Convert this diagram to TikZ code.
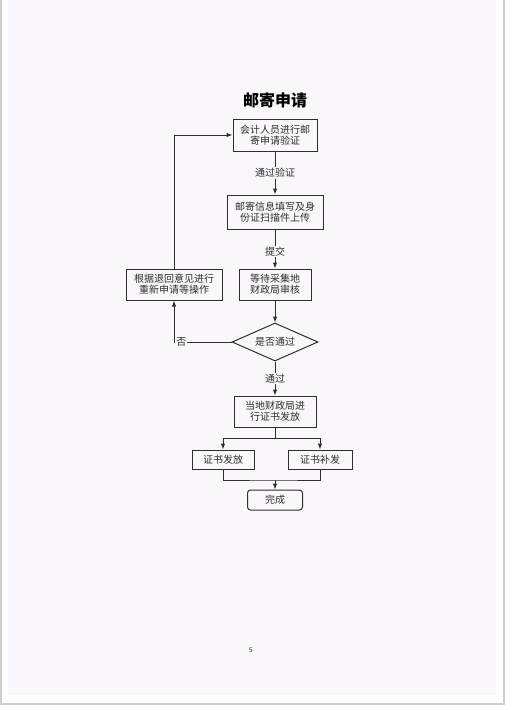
\documentclass[tikz,border=0pt]{standalone}
\usepackage{fontspec}
\usepackage{tikz}
\usetikzlibrary{arrows.meta,shapes.geometric}
\newfontfamily\cjk{Noto Sans CJK SC}
\definecolor{Paper}{HTML}{F9F7FC}
\definecolor{Ink}{HTML}{2E2E2E}
\definecolor{Rim}{HTML}{CFCFCF}

\tikzset{
  procbox/.style={draw=Ink,line width=1pt,fill=Paper,text=Ink,inner sep=0pt,
    font=\cjk\fontsize{10}{11}\selectfont,align=center},
  tag/.style={fill=Paper,text=Ink,inner sep=1pt,font=\cjk\fontsize{10}{11}\selectfont},
  flow/.style={draw=Ink,line width=1pt,-{Latex[length=6pt,width=4.5pt]}},
  wire/.style={draw=Ink,line width=1pt}
}

\begin{document}
\begin{tikzpicture}[x=1pt,y=-1pt]
  \useasboundingbox (0,0) rectangle (518,710);
  % scanned page
  \fill[white] (0,0) rectangle (518,710);
  \fill[Paper] (8,0) rectangle (496,695);
  \draw[Rim,line width=2pt] (1,0) -- (1,704) -- (504,704) -- (504,0);

  \node[font=\cjk\bfseries\fontsize{16}{18}\selectfont,text=black] (title) at (275,100) {邮寄申请};

  \node[procbox,minimum width=84pt,minimum height=32pt] (check) at (275,135) {会计人员进行邮\\寄申请验证};
  \node[procbox,minimum width=96pt,minimum height=34pt] (upload) at (275,212) {邮寄信息填写及身\\份证扫描件上传};
  \node[procbox,minimum width=72pt,minimum height=31pt] (review) at (275,284.5) {等待采集地\\财政局审核};
  \node[procbox,minimum width=96pt,minimum height=31pt] (redo) at (174,284.5) {根据退回意见进行\\重新申请等操作};
  \node[procbox,diamond,aspect=2.26,minimum width=86pt,minimum height=38pt] (pass) at (275,342) {是否通过};
  \node[procbox,minimum width=82pt,minimum height=31pt] (grant) at (275,411.5) {当地财政局进\\行证书发放};
  \node[procbox,minimum width=62pt,minimum height=19pt] (issue) at (223,459.5) {证书发放};
  \node[procbox,minimum width=64pt,minimum height=19pt] (reissue) at (320,459.5) {证书补发};
  \node[procbox,rounded corners=3pt,minimum width=55pt,minimum height=20pt] (done) at (275,500) {完成};

  \coordinate (split) at (275,438);
  \coordinate (join) at (275,480);

  \draw[flow] (check) -- node[tag]{通过验证} (upload);
  \draw[flow] (upload) -- node[tag,pos=0.57]{提交} (review);
  \draw[flow] (review) -- (pass);
  \draw[flow] (pass) -- node[tag]{通过} (grant);
  \draw[flow] (pass.west) -- node[tag,pos=0.87]{否} (pass.west -| redo.south) -- (redo.south);
  \draw[flow] (redo.north) |- (check.west);

  \draw[wire] (grant.south) -- (split);
  \draw[flow] (split) -| (issue.north);
  \draw[flow] (split) -| (reissue.north);
  \draw[wire] (issue.south) |- (join) -| (reissue.south);
  \draw[flow] (join) -- (done.north);

  \node[font=\sffamily\fontsize{7}{8}\selectfont,text=Ink] (page) at (251,650) {5};
\end{tikzpicture}
\end{document}
